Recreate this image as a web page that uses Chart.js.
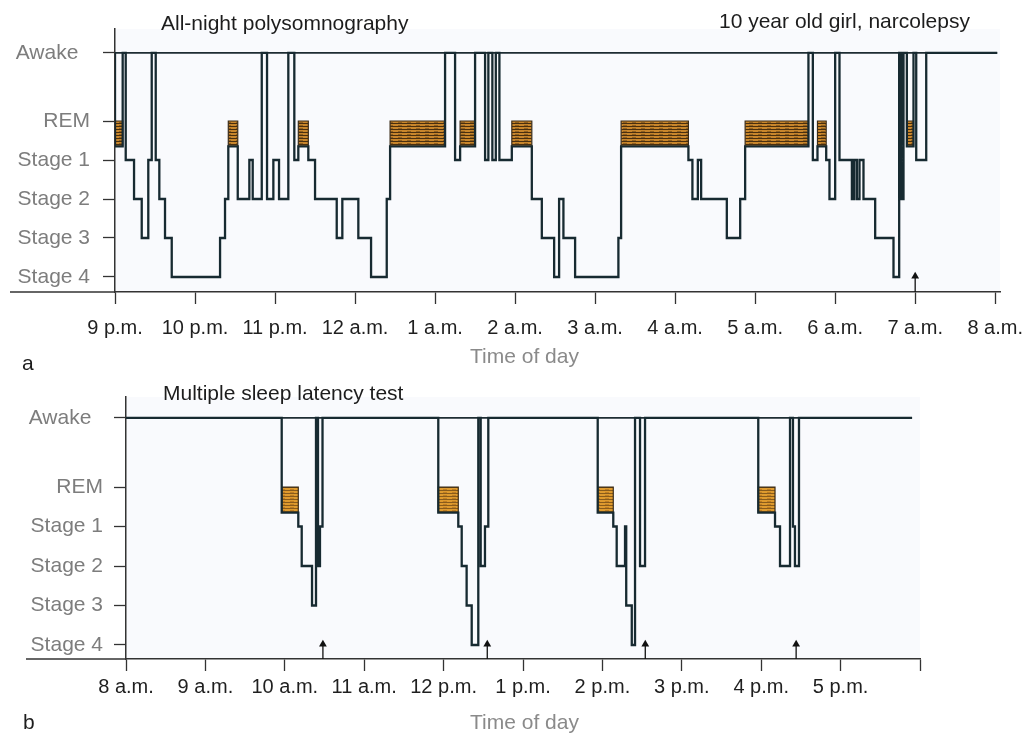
<!DOCTYPE html>
<html>
<head>
<meta charset="utf-8">
<script src="https://cdn.jsdelivr.net/npm/chart.js@4.4.1/dist/chart.umd.min.js"></script>
<style>
  html, body { margin: 0; padding: 0; background: #fff; }
  body { width: 1026px; height: 733px; position: relative; overflow: hidden; font-family: "Liberation Sans", Arial, sans-serif; }
  canvas { position: absolute; left: 0; }
  #chartA { top: 0; }
  #chartB { top: 370px; }
  .txt { position: absolute; white-space: nowrap; font-size: 21px; line-height: 21px; color: #1d1d1d; }
  .gray { color: #8a8a8a; }
</style>
</head>
<body>
<canvas id="chartA" width="1026" height="370"></canvas>
<canvas id="chartB" width="1026" height="363"></canvas>

<div class="txt" style="left:161px; top:12px;">All-night polysomnography</div>
<div class="txt" style="left:719px; top:10px;">10 year old girl, narcolepsy</div>
<div class="txt gray" style="left:470px; top:345px;">Time of day</div>
<div class="txt" style="left:22px; top:352px;">a</div>
<div class="txt" style="left:163px; top:382px;">Multiple sleep latency test</div>
<div class="txt gray" style="left:470px; top:711px;">Time of day</div>
<div class="txt" style="left:23px; top:711px;">b</div>

<script>
// Sleep stages, bottom to top of the y axis
const stageLabels = ['Stage 4', 'Stage 3', 'Stage 2', 'Stage 1', 'REM', 'Awake'];
const stageLevels = [0, 1, 2, 3, 4, 5.75];

// where the trace sits for each scored stage (REM runs along the bottom of its block)
const traceLevel = { '4': 0, '3': 1, '2': 2, '1': 3, 'R': 3.35, 'W': 5.75 };
const remTop = 4;
const remBottom = 3.35;

// a: all-night polysomnography, hours after 9 p.m. -> stage from that moment on
const nightHours = ['9 p.m.', '10 p.m.', '11 p.m.', '12 a.m.', '1 a.m.', '2 a.m.', '3 a.m.',
  '4 a.m.', '5 a.m.', '6 a.m.', '7 a.m.', '8 a.m.'];
const nightHypnogram = [
  [0.000, 'W'], [0.000, 'R'], [0.096, 'W'], [0.134, '1'], [0.238, '2'], [0.334, '3'],
  [0.416, '1'], [0.459, 'W'], [0.509, '1'], [0.554, '2'], [0.625, '3'], [0.709, '4'],
  [1.313, '3'], [1.375, '2'], [1.416, 'R'], [1.534, '2'], [1.679, '1'], [1.721, '2'],
  [1.834, 'W'], [1.900, '2'], [1.979, '1'], [2.050, '2'], [2.166, 'W'], [2.241, '1'],
  [2.291, 'R'], [2.416, '1'], [2.500, '2'], [2.771, '3'], [2.841, '2'], [3.041, '3'],
  [3.200, '4'], [3.396, '2'], [3.438, 'R'], [4.125, 'W'], [4.250, '1'], [4.313, 'R'],
  [4.500, 'W'], [4.625, '1'], [4.666, 'W'], [4.716, '1'], [4.759, 'W'], [4.804, '1'],
  [4.959, 'R'], [5.209, '2'], [5.334, '3'], [5.488, '4'], [5.550, '2'], [5.604, '3'],
  [5.750, '4'], [6.291, '3'], [6.325, 'R'], [7.166, '1'], [7.216, '2'], [7.284, '1'],
  [7.325, '2'], [7.646, '3'], [7.813, '2'], [7.875, 'R'], [8.666, 'W'], [8.721, '1'],
  [8.779, 'R'], [8.888, '1'], [8.929, '2'], [9.000, 'W'], [9.054, '1'], [9.209, '2'],
  [9.238, '1'], [9.271, '2'], [9.304, '1'], [9.354, '2'], [9.500, '3'], [9.729, '4'],
  [9.800, 'W'], [9.825, '2'], [9.854, 'W'], [9.896, 'R'], [9.979, 'W'], [10.013, '1'],
  [10.138, 'W'], [11.025, 'W']
];
const nightArrows = [10.0];

// b: multiple sleep latency test, hours after 8 a.m.
const dayHours = ['8 a.m.', '9 a.m.', '10 a.m.', '11 a.m.', '12 p.m.', '1 p.m.', '2 p.m.',
  '3 p.m.', '4 p.m.', '5 p.m.', ''];
const msltHypnogram = [
  [0.000, 'W'],
  [1.961, 'R'], [2.170, '1'], [2.213, '2'], [2.343, '3'], [2.393, 'W'], [2.418, '2'],
  [2.443, '1'], [2.475, 'W'],
  [3.933, 'R'], [4.185, '1'], [4.228, '2'], [4.290, '3'], [4.354, '4'], [4.437, 'W'],
  [4.467, '2'], [4.521, '1'], [4.563, 'W'],
  [5.941, 'R'], [6.137, '1'], [6.180, '2'], [6.285, '1'], [6.300, '3'], [6.370, '4'],
  [6.411, 'W'], [6.474, '2'], [6.537, 'W'],
  [7.963, 'R'], [8.174, '1'], [8.237, '2'], [8.363, 'W'], [8.400, '1'], [8.425, '2'],
  [8.476, 'W'],
  [9.900, 'W']
];
const msltArrows = [2.48, 4.55, 6.54, 8.44];

const FONT = '"Liberation Sans", Arial, sans-serif';

// orange with dark horizontal scan lines, like the shaded REM bars
function hatchPattern(base, stripe, faint) {
  const c = document.createElement('canvas');
  c.width = 9; c.height = 3;
  const g = c.getContext('2d');
  g.fillStyle = base; g.fillRect(0, 0, 9, 3);
  g.fillStyle = stripe; g.fillRect(0, 0, 9, 1);
  g.fillStyle = faint; g.fillRect(2, 2, 4, 1);
  return g.createPattern(c, 'repeat');
}

function buildDatasets(hyp, arrows, yMin, pattern) {
  const ds = [];
  const last = hyp[hyp.length - 1][0];

  // hypnogram trace
  ds.push({
    data: hyp.map(([t, s]) => ({ x: t, y: traceLevel[s] })),
    stepped: true, borderColor: '#172a31', borderWidth: 2.3, pointRadius: 0, fill: false, order: 0
  });

  // end-of-test arrows
  arrows.forEach(t => ds.push({
    data: [{ x: t, y: yMin }, { x: t, y: 0.02 }],
    borderColor: '#111', borderWidth: 1.3, pointRadius: [0, 4.5], pointStyle: 'triangle',
    pointBackgroundColor: '#111', pointBorderWidth: 0, fill: false, order: 0
  }));

  // awake baseline across the whole recording
  ds.push({
    data: [{ x: 0, y: traceLevel.W }, { x: last, y: traceLevel.W }],
    borderColor: '#1e2d33', borderWidth: 1.8, pointRadius: 0, fill: false, order: 1
  });

  // REM periods as hatched blocks
  for (let i = 0; i < hyp.length - 1; i++) {
    if (hyp[i][1] !== 'R') continue;
    const t0 = hyp[i][0], t1 = hyp[i + 1][0];
    ds.push({
      data: [{ x: t0, y: remBottom }, { x: t0, y: remTop }, { x: t1, y: remTop }, { x: t1, y: remBottom }],
      fill: { value: remBottom }, backgroundColor: pattern,
      borderColor: '#3b2b16', borderWidth: 1.2, pointRadius: 0, order: 2
    });
  }
  return ds;
}

const framePlugin = {
  id: 'frame',
  beforeDraw(chart) {
    const { ctx, chartArea: a } = chart;
    ctx.save();
    ctx.fillStyle = '#f9fafd';
    ctx.fillRect(a.left, a.top, a.right - a.left, a.bottom - a.top);
    ctx.restore();
  },
  afterDraw(chart, args, opts) {
    const { ctx, chartArea: a } = chart;
    ctx.save();
    ctx.strokeStyle = '#333';
    ctx.lineWidth = 1.5;
    ctx.beginPath();
    ctx.moveTo(opts.axisFrom, a.bottom);
    ctx.lineTo(a.left, a.bottom);
    ctx.stroke();
    ctx.restore();
  }
};

function makeChart(id, p) {
  return new Chart(document.getElementById(id), {
    type: 'line',
    data: { datasets: buildDatasets(p.hyp, p.arrows, p.yMin, p.pattern) },
    plugins: [framePlugin],
    options: {
      responsive: false,
      animation: false,
      layout: { padding: { top: p.padTop, right: p.padRight, left: 0, bottom: 0 } },
      elements: { line: { borderJoinStyle: 'miter', borderCapStyle: 'butt', tension: 0 } },
      plugins: {
        legend: { display: false },
        tooltip: { enabled: false },
        frame: { axisFrom: p.axisFrom }
      },
      scales: {
        x: {
          type: 'linear', min: 0, max: p.xMax,
          afterFit: s => { s.height = p.xHeight; s.paddingLeft = 0; s.paddingRight = 0; },
          afterBuildTicks: s => { s.ticks = p.hours.map((_, i) => ({ value: i })); },
          ticks: {
            callback: (v, i) => p.hours[i],
            color: '#1f1f1f', font: { size: 20, family: FONT },
            padding: p.xPad, autoSkip: false, maxRotation: 0
          },
          grid: { drawOnChartArea: false, tickLength: 12, tickColor: '#333', tickWidth: 1.3 },
          border: { color: '#333', width: 1.5 }
        },
        y: {
          min: p.yMin, max: p.yMax,
          afterFit: s => { s.width = p.yWidth; s.paddingTop = 0; s.paddingBottom = 0; },
          afterBuildTicks: s => { s.ticks = stageLevels.map(v => ({ value: v })); },
          ticks: {
            callback: (v, i) => stageLabels[i] === 'Awake' ? 'Awake  ' : stageLabels[i],
            color: '#7d7d7d', font: { size: 21, family: FONT }, padding: p.yPad
          },
          grid: { drawOnChartArea: false, tickLength: 12, tickColor: '#333', tickWidth: 1.3 },
          border: { color: '#333', width: 1.5 }
        }
      }
    }
  });
}

makeChart('chartA', {
  hyp: nightHypnogram, arrows: nightArrows, hours: nightHours,
  pattern: hatchPattern('#c8862c', 'rgba(50,32,10,0.85)', 'rgba(90,60,20,0.5)'),
  xMax: 11.06, yMin: -0.385, yMax: 6.36,
  padTop: 29, padRight: 26, xHeight: 78, yWidth: 115, yPad: 13, xPad: 12, axisFrom: 10
});

makeChart('chartB', {
  hyp: msltHypnogram, arrows: msltArrows, hours: dayHours,
  pattern: hatchPattern('#de9a2e', 'rgba(80,50,15,0.6)', 'rgba(150,90,20,0.45)'),
  xMax: 10, yMin: -0.355, yMax: 6.28,
  padTop: 27, padRight: 106, xHeight: 74, yWidth: 126, yPad: 11, xPad: 4, axisFrom: 26
});
</script>
</body>
</html>
